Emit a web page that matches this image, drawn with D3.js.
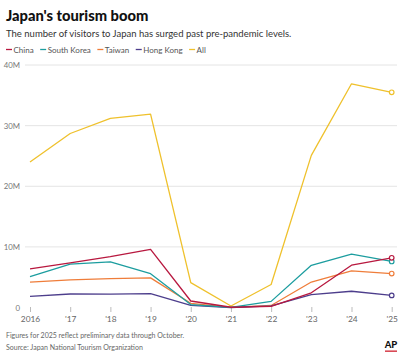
<!DOCTYPE html>
<html>
<head>
<meta charset="utf-8">
<script src="https://cdn.jsdelivr.net/npm/d3@7"></script>
<style>
  body { margin: 0; background: #fff; }
  svg { display: block; font-family: Lato, "Noto Sans", sans-serif; }
</style>
</head>
<body>
<div id="cnt"></div>
<script>
let ancho = 405;
let largo = 358;

// datos (millones de visitantes)
let years = [2016, 2017, 2018, 2019, 2020, 2021, 2022, 2023, 2024, 2025];
let yearLabels = ["2016", "'17", "'18", "'19", "'20", "'21", "'22", "'23", "'24", "'25"];
let china = [6.37, 7.36, 8.38, 9.59, 1.07, 0.04, 0.19, 2.42, 6.98, 8.2];
let southKorea = [5.09, 7.14, 7.54, 5.58, 0.49, 0.02, 1.01, 6.96, 8.82, 7.6];
let taiwan = [4.17, 4.56, 4.76, 4.89, 0.69, 0.005, 0.33, 4.2, 6.04, 5.6];
let hongKong = [1.84, 2.23, 2.21, 2.29, 0.35, 0.001, 0.27, 2.11, 2.68, 2.0];
let all = [24.0, 28.7, 31.2, 31.9, 4.1, 0.25, 3.8, 25.1, 36.9, 35.5];
let yTicks = [0, 10, 20, 30, 40];
let yTickLabels = ["0", "10M", "20M", "30M", "40M"];

let series = [
  { name: "China", values: china, color: "#b8183f" },
  { name: "South Korea", values: southKorea, color: "#1c9d9f" },
  { name: "Taiwan", values: taiwan, color: "#ef7d3a" },
  { name: "Hong Kong", values: hongKong, color: "#4d3e8c" },
  { name: "All", values: all, color: "#efc12c" }
];
// orden de dibujo: All al fondo
let drawOrder = [series[4], series[2], series[3], series[1], series[0]];

let svg = d3.select('#cnt')
  .append("svg")
  .attr('width', ancho)
  .attr('height', largo);

// Titulo
svg.append("text")
  .attr("x", 6).attr("y", 21)
  .style("font-family", "Lato, sans-serif")
  .style("font-weight", "900")
  .style("font-size", "14.7px")
  .style("fill", "#111")
  .text("Japan's tourism boom");

svg.append("text")
  .attr("x", 6).attr("y", 37)
  .style("font-size", "9.5px")
  .style("fill", "#333")
  .text("The number of visitors to Japan has surged past pre-pandemic levels.");

// Leyenda
let lx = 6;
series.forEach(function (s) {
  svg.append("line")
    .attr("x1", lx).attr("x2", lx + 6)
    .attr("y1", 49.5).attr("y2", 49.5)
    .style("stroke", s.color)
    .style("stroke-width", 1.3);
  let t = svg.append("text")
    .attr("x", lx + 7.5).attr("y", 52.5)
    .style("font-size", "8px")
    .style("fill", "#555")
    .text(s.name);
  lx += 7.5 + t.node().getComputedTextLength() + 6.5;
});

// Escalas
let x = d3.scalePoint().domain(years).range([30, 391.7]);
let y = d3.scaleLinear().domain([0, 40]).range([307.5, 65]);

// Rejilla y etiquetas Y
yTicks.forEach(function (v, i) {
  if (v > 0) {
    svg.append("line")
      .attr("x1", 25).attr("x2", 397)
      .attr("y1", y(v)).attr("y2", y(v))
      .style("stroke", "#dddddd")
      .style("stroke-width", 0.8);
  }
  svg.append("text")
    .attr("x", 20).attr("y", y(v) + 3)
    .attr("text-anchor", "end")
    .style("font-size", "7.8px")
    .style("fill", "#777")
    .text(yTickLabels[i]);
});

// Eje X
let xAxis = svg.append("g")
  .attr("transform", "translate(0,307)")
  .call(d3.axisBottom(x).tickSize(5).tickPadding(4)
    .tickFormat(function (d, i) { return yearLabels[i]; }));
xAxis.select(".domain").remove();
xAxis.selectAll(".tick line").style("stroke", "#aaa").style("stroke-width", 0.8);
xAxis.selectAll("text")
  .style("font-family", "Lato, sans-serif")
  .style("font-size", "8.4px")
  .style("fill", "#666");

// Lineas
let linea = d3.line()
  .x(function (d, i) { return x(years[i]); })
  .y(function (d) { return y(d); });

drawOrder.forEach(function (s) {
  svg.append("path")
    .datum(s.values)
    .attr("d", linea)
    .style("fill", "none")
    .style("stroke", s.color)
    .style("stroke-width", 1.3)
    .style("stroke-linejoin", "round");
});

drawOrder.forEach(function (s) {
  let n = s.values.length - 1;
  svg.append("circle")
    .attr("cx", x(years[n]))
    .attr("cy", y(s.values[n]))
    .attr("r", 2.3)
    .style("fill", "#fff")
    .style("stroke", s.color)
    .style("stroke-width", 1.2);
});

// Notas
svg.append("text")
  .attr("x", 6).attr("y", 338)
  .style("font-size", "7px")
  .style("fill", "#666")
  .text("Figures for 2025 reflect preliminary data through October.");
svg.append("text")
  .attr("x", 6).attr("y", 350)
  .style("font-size", "7px")
  .style("fill", "#666")
  .text("Source: Japan National Tourism Organization");

// Logo AP
svg.append("text")
  .attr("x", 391).attr("y", 348)
  .attr("text-anchor", "middle")
  .style("font-family", "Lato, sans-serif")
  .style("font-weight", "900")
  .style("font-size", "9.5px")
  .style("fill", "#111")
  .text("AP");
svg.append("rect")
  .attr("x", 385).attr("y", 350.5)
  .attr("width", 12).attr("height", 1.3)
  .style("fill", "#d0202e");
</script>
</body>
</html>
